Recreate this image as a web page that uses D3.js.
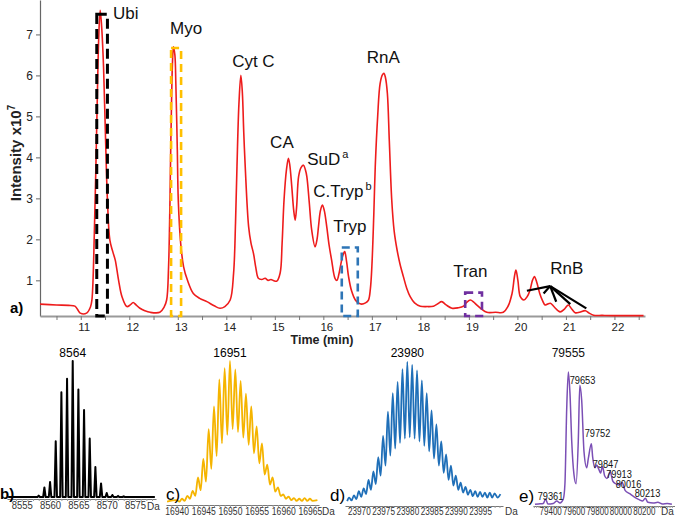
<!DOCTYPE html>
<html><head><meta charset="utf-8">
<script src="https://cdn.jsdelivr.net/npm/d3@7"></script>
<style>
body{margin:0;background:#fff;}
text{font-family:"Liberation Sans",Arial,sans-serif;}
</style></head>
<body><svg id="c" width="675" height="518"></svg>
<script>
// ---------- data: chromatogram (a) ----------
const chromTime = [10.16,10.5,10.75,10.88,10.95,10.99,11.12,11.2,11.23,11.28,11.33,11.37,11.4,11.43,11.47,11.51,11.55,11.6,11.66,11.71,11.78,11.85,11.95,12.02,12.08,12.14,12.22,12.32,12.43,12.63,12.72,12.77,12.81,12.86,12.89,12.91,12.94,12.96,12.99,13.01,13.06,13.12,13.2,13.32,13.45,13.6,13.75,13.87,13.97,14.08,14.15,14.19,14.22,14.26,14.3,14.33,14.36,14.39,14.46,14.51,14.56,14.61,14.66,14.73,14.8,14.86,14.92,14.98,15.04,15.11,15.15,15.19,15.24,15.28,15.31,15.35,15.39,15.42,15.45,15.49,15.54,15.59,15.63,15.66,15.71,15.76,15.83,15.87,15.9,15.94,15.98,16.02,16.07,16.12,16.17,16.24,16.28,16.32,16.35,16.4,16.44,16.48,16.52,16.58,16.66,16.72,16.79,16.87,16.93,16.97,17.0,17.04,17.07,17.12,17.17,17.22,17.25,17.28,17.32,17.36,17.41,17.46,17.52,17.58,17.65,17.72,17.79,17.88,18.0,18.14,18.27,18.36,18.44,18.53,18.65,18.78,18.89,18.96,19.03,19.1,19.16,19.26,19.37,19.55,19.71,19.8,19.89,19.94,19.97,20.01,20.06,20.13,20.2,20.26,20.31,20.35,20.4,20.46,20.52,20.57,20.62,20.68,20.76,20.88,20.97,21.05,21.12,21.19,21.28,21.4,21.48,21.57,21.75,21.98,22.3,22.6];
const chromInt = [0.42,0.4,0.39,0.37,0.26,0.2,0.2,0.35,0.52,2.15,4.8,6.9,7.59,7.2,6.2,4.5,2.96,1.98,1.7,1.5,1.0,0.6,0.36,0.4,0.46,0.4,0.32,0.26,0.22,0.22,0.35,0.52,1.33,4.58,6.3,6.7,6.5,5.8,4.2,2.96,1.9,1.33,1.0,0.68,0.56,0.48,0.38,0.32,0.36,0.52,1.17,2.4,3.77,5.3,6.0,5.6,4.6,3.77,2.31,1.9,1.66,1.3,1.05,1.02,1.05,1.0,1.02,0.99,0.98,1.18,1.9,2.96,3.7,3.98,3.8,3.28,2.7,2.47,2.8,3.53,3.75,3.81,3.7,3.53,2.9,2.23,1.82,2.0,2.31,2.7,2.84,2.7,2.31,1.85,1.5,1.05,1.0,1.15,1.33,1.6,1.7,1.45,1.09,0.75,0.52,0.45,0.42,0.45,0.52,0.8,1.33,2.6,3.77,5.0,5.8,6.02,6.05,5.95,5.56,4.4,2.96,2.2,1.74,1.4,1.09,0.8,0.6,0.45,0.37,0.36,0.37,0.43,0.48,0.4,0.32,0.33,0.37,0.47,0.52,0.47,0.4,0.3,0.22,0.22,0.22,0.35,0.68,1.1,1.25,1.0,0.6,0.52,0.6,0.76,1.0,1.09,0.95,0.68,0.5,0.4,0.42,0.44,0.35,0.23,0.3,0.4,0.3,0.21,0.22,0.26,0.2,0.15,0.145,0.14,0.14,0.14];
const yTickValues = [1,2,3,4,5,6,7];
const xTickLabels = [11,12,13,14,15,16,17,18,19,20,21,22];
const xMinorTicks = [10.5,11,11.5,12,12.5,13,13.5,14,14.5,15,15.5,16,16.5,17,17.5,18,18.5,19,19.5,20,20.5,21,21.5,22,22.5];

// peak names and annotation anchors (time, intensity)
const peakNames = ["Ubi","Myo","Cyt C","CA","SuD","C.Tryp","Tryp","RnA","Tran","RnB"];
const peakSup   = ["","","","","a","b","","","",""];
const peakLabT  = [11.666,12.841,14.12,14.903,15.666,15.79,16.202,16.897,18.676,20.676];
const peakLabV  = [7.37,7.007,6.21,4.227,3.812,3.039,2.185,6.307,1.088,1.154];

// dashed selection boxes [t0,t1,top]
const boxT0 = [11.33,12.862,16.38,18.924];
const boxT1 = [11.55,13.068,16.71,19.27];
const boxTop = [7.49,6.67,1.80,0.70];
const boxColors = ["#000000","#FFC000","#2E75B6","#7030A0"];

// RnB pointer lines
const rnbApex = [20.676,0.86];
const rnbEndT = [20.196,20.54,20.80,21.09,21.42];
const rnbEndV = [0.746,0.68,0.478,0.42,0.317];

// ---------- data: spectra ----------
const ubiMass = [8558,8559,8560,8561,8562,8563,8564,8565,8566,8567,8568,8569,8570,8571,8572,8573];
const ubiInt  = [0.01,0.07,0.11,0.41,0.77,0.87,1.0,0.79,0.64,0.43,0.22,0.10,0.03,0.015,0.008,0.005];
const ubiTicks = [8555,8560,8565,8570,8575];

const myoMass = [16940,16941,16942,16943,16944,16945,16946,16947,16948,16949,16950,16951,16952,16953,16954,16955,16956,16957,16958,16959,16960,16961,16962,16963,16964,16965];
const myoPeak = [0.02,0.03,0.05,0.085,0.18,0.31,0.52,0.68,0.87,0.95,1.0,0.94,0.86,0.77,0.68,0.54,0.42,0.27,0.18,0.11,0.06,0.045,0.035,0.03,0.035,0.03];
const myoValley = [0.01,0.015,0.03,0.05,0.09,0.15,0.24,0.33,0.42,0.48,0.52,0.5,0.46,0.41,0.35,0.28,0.2,0.13,0.08,0.05,0.03,0.02,0.015,0.015,0.015];
const myoTicks = [16940,16945,16950,16955,16960,16965];

const trypMass = [23968,23969,23970,23971,23972,23973,23974,23975,23976,23977,23978,23979,23980,23981,23982,23983,23984,23985,23986,23987,23988,23989,23990,23991,23992,23993,23994,23995,23996,23997,23998];
const trypPeak = [0.045,0.06,0.09,0.11,0.17,0.23,0.33,0.48,0.65,0.78,0.86,0.95,1.0,0.98,0.94,0.87,0.78,0.66,0.56,0.44,0.35,0.27,0.2,0.15,0.12,0.1,0.09,0.085,0.08,0.08,0.075];
const trypValley = [0.025,0.035,0.05,0.07,0.1,0.14,0.2,0.27,0.34,0.39,0.43,0.46,0.47,0.46,0.44,0.41,0.37,0.32,0.27,0.22,0.17,0.13,0.1,0.08,0.065,0.055,0.05,0.05,0.045,0.045];
const trypTicks = [23970,23975,23980,23985,23990,23995];

const tranMass = [79270,79300,79341,79361,79380,79426,79456,79484,79512,79526,79541,79555,79569,79584,79603,79621,79640,79653,79669,79689,79712,79726,79752,79763,79783,79797,79815,79830,79847,79865,79885,79913,79935,79960,79985,80016,80040,80080,80120,80160,80190,80213,80235,80280,80320,80360,80400,80440];
const tranInt  = [0.005,0.008,0.012,0.045,0.008,0.012,0.03,0.015,0.045,0.16,0.72,1.0,0.84,0.48,0.23,0.16,0.48,0.9,0.79,0.4,0.28,0.35,0.46,0.36,0.28,0.3,0.27,0.24,0.29,0.22,0.2,0.25,0.18,0.16,0.15,0.17,0.11,0.085,0.06,0.04,0.03,0.05,0.02,0.015,0.02,0.008,0.012,0.005];
const tranTicks = [79400,79600,79800,80000,80200];
const tranLabels = ["79555","79653","79752","79847","79913","80016","80213","79361"];
const tranLabMass = [79555,79676,79804,79873,79988,80069,80232,79403];
const tranLabLevel = [1.11,0.91,0.515,0.28,0.2,0.125,0.06,0.037];

// ---------- drawing ----------
const svg = d3.select("#c");
const FONT = '"Liberation Sans",Arial,sans-serif';

// ===== panel a =====
const x = d3.scaleLinear().domain([10.16,22.63]).range([40,645]);
const y = d3.scaleLinear().domain([0.13,7.84]).range([316,0]);

const gy = svg.append("g").attr("transform","translate(40,0)")
  .call(d3.axisLeft(y).tickValues(yTickValues).tickSize(4).tickSizeOuter(0).tickPadding(3));
gy.select(".domain").attr("stroke","#666").attr("stroke-width",1.2);
gy.selectAll(".tick line").attr("stroke","#666");
gy.selectAll(".tick text").attr("font-size",12).attr("fill","#222").attr("font-family",FONT);

const gx = svg.append("g").attr("transform","translate(0,316)")
  .call(d3.axisBottom(x).tickValues(xMinorTicks).tickSize(4).tickSizeOuter(0).tickPadding(3)
    .tickFormat(d => xTickLabels.includes(d) ? d : ""));
gx.select(".domain").attr("stroke","#9a9a9a").attr("stroke-width",2);
gx.selectAll(".tick line").attr("stroke","#777");
gx.selectAll(".tick text").attr("font-size",11.5).attr("fill","#222").attr("dx",3).attr("font-family",FONT);

svg.append("text").attr("x",322).attr("y",344).attr("text-anchor","middle")
  .attr("font-size",12.5).attr("font-weight","bold").attr("fill","#222").text("Time (min)");

const yl = svg.append("text").attr("transform","translate(21,153) rotate(-90)")
  .attr("text-anchor","middle").attr("font-size",15).attr("font-weight","bold").attr("fill","#222");
yl.append("tspan").text("Intensity x10");
yl.append("tspan").attr("dy",-6).attr("font-size",10).text("7");

svg.append("text").attr("x",10).attr("y",313).attr("font-size",15).attr("font-weight","bold").text("a)");

// chromatogram
const chrom = chromTime.map((t,i)=>[t,chromInt[i]]);
svg.append("path").datum(chrom)
  .attr("d", d3.line().x(d=>x(d[0])).y(d=>y(d[1])).curve(d3.curveCatmullRom))
  .attr("fill","none").attr("stroke","#ee1c1c").attr("stroke-width",1.6);

// dashed boxes
boxT0.forEach((t0,i)=>{
  svg.append("rect").attr("x",x(t0)).attr("y",y(boxTop[i]))
    .attr("width",x(boxT1[i])-x(t0)).attr("height",y(0.13)-y(boxTop[i]))
    .attr("fill","none").attr("stroke",boxColors[i]).attr("stroke-width",i===0?3:2.6)
    .attr("stroke-dasharray", i===0 ? "10,5" : "8,5");
});

// RnB pointer lines
rnbEndT.forEach((t,i)=>{
  svg.append("line").attr("x1",x(rnbApex[0])).attr("y1",y(rnbApex[1]))
    .attr("x2",x(t)).attr("y2",y(rnbEndV[i])).attr("stroke","#000").attr("stroke-width",2.2);
});

// peak names
peakNames.forEach((n,i)=>{
  const t = svg.append("text").attr("x",x(peakLabT[i])).attr("y",y(peakLabV[i]))
    .attr("font-size",17).attr("fill","#111").text(n);
  if(peakSup[i]) t.append("tspan").attr("dy",-7).attr("dx",2).attr("font-size",11).text(peakSup[i]);
});

// ===== spectra panels =====
function bottomAxis(xs, axisY, ticks, minor, fs, pad, sx){
  const g = svg.append("g").attr("transform",`translate(0,${axisY})`);
  g.call(d3.axisBottom(xs).tickValues(minor).tickSize(2).tickSizeOuter(0).tickFormat(""));
  g.select(".domain").attr("stroke","#777").attr("stroke-width",1.2);
  g.selectAll(".tick line").attr("stroke","#999");
  const g2 = svg.append("g").attr("transform",`translate(0,${axisY})`);
  g2.call(d3.axisBottom(xs).tickValues(ticks).tickSize(0).tickPadding(pad).tickFormat(d3.format("d")));
  g2.select(".domain").remove();
  g2.selectAll(".tick text").attr("font-size",fs).attr("fill","#333").attr("font-family",FONT)
    .attr("transform",`scale(${sx},1)`);
}
function daLabel(xp, yp, fs){
  svg.append("text").attr("x",xp).attr("y",yp).attr("font-size",fs).attr("fill","#333").text("Da");
}

// b) ubiquitin
const xb = d3.scaleLinear().domain([8552.4,8578.7]).range([7,156]);
const yb = d3.scaleLinear().domain([0,1]).range([497,361]);
bottomAxis(xb, 499, ubiTicks, d3.range(8553,8579), 10, 3, 0.95);
const ubiPts = [[8552.6,0]];
ubiMass.forEach((m,i)=>{ ubiPts.push([m-0.22,0],[m,ubiInt[i]],[m+0.22,0]); });
ubiPts.push([8578.5,0]);
svg.append("path").datum(ubiPts).attr("d",d3.line().x(d=>xb(d[0])).y(d=>yb(d[1])))
  .attr("fill","none").attr("stroke","#000").attr("stroke-width",2).attr("stroke-linejoin","round");
daLabel(147, 510, 10);
svg.append("text").attr("x",xb(8564)).attr("y",357).attr("text-anchor","middle").attr("font-size",12).text("8564");
svg.append("text").attr("x",0).attr("y",499).attr("font-size",15).attr("font-weight","bold").text("b)");

// c) myoglobin
const xc = d3.scaleLinear().domain([16938,16966.7]).range([166,319]);
const yc = d3.scaleLinear().domain([0,1]).range([503,361]);
bottomAxis(xc, 505, myoTicks, d3.range(16939,16967), 10, 2.5, 0.86);
const myoPts = [[16938.2,0.01]];
myoMass.forEach((m,i)=>{ myoPts.push([m,myoPeak[i]]); if(i<myoValley.length) myoPts.push([m+0.5,myoValley[i]]); });
myoPts.push([16965.5,0.015],[16966.4,0.02]);
svg.append("path").datum(myoPts).attr("d",d3.line().x(d=>xc(d[0])).y(d=>yc(d[1])).curve(d3.curveMonotoneX))
  .attr("fill","none").attr("stroke","#F5B400").attr("stroke-width",1.8);
daLabel(322, 515, 10);
svg.append("text").attr("x",xc(16950)).attr("y",357).attr("text-anchor","middle").attr("font-size",12).text("16951");
svg.append("text").attr("x",166).attr("y",500).attr("font-size",17).text("c)");

// d) trypsinogen
const xd = d3.scaleLinear().domain([23967.15,23999.73]).range([345,503]);
const yd = d3.scaleLinear().domain([0,1]).range([504,362]);
bottomAxis(xd, 506, trypTicks, d3.range(23968,24000), 10, 2, 0.82);
const trypPts = [[23967.6,0.02]];
trypMass.forEach((m,i)=>{ trypPts.push([m,trypPeak[i]]); if(i<trypValley.length) trypPts.push([m+0.5,trypValley[i]]); });
trypPts.push([23998.6,0.045],[23999.2,0.07]);
svg.append("path").datum(trypPts).attr("d",d3.line().x(d=>xd(d[0])).y(d=>yd(d[1])).curve(d3.curveMonotoneX))
  .attr("fill","none").attr("stroke","#1F6FB8").attr("stroke-width",1.8);
daLabel(505, 515, 10);
svg.append("text").attr("x",xd(23980)).attr("y",357).attr("text-anchor","middle").attr("font-size",12).text("23980");
svg.append("text").attr("x",330).attr("y",501).attr("font-size",17).text("d)");

// e) transferrin
const xe = d3.scaleLinear().domain([79253,80466.7]).range([533,675]);
const ye = d3.scaleLinear().domain([0,1]).range([505,372]);
bottomAxis(xe, 506, tranTicks, d3.range(79260,80460,20), 10, 2, 0.8);
svg.append("path").datum(tranMass.map((m,i)=>[m,tranInt[i]]))
  .attr("d",d3.line().x(d=>xe(d[0])).y(d=>ye(d[1])).curve(d3.curveMonotoneX))
  .attr("fill","none").attr("stroke","#7B4FB5").attr("stroke-width",1.5);
daLabel(661, 515, 10);
tranLabels.forEach((l,i)=>{
  svg.append("text")
    .attr("transform",`translate(${xe(tranLabMass[i])},${ye(tranLabLevel[i])}) scale(${i===0?1:0.88},1)`)
    .attr("text-anchor","middle").attr("font-size",i===0?12:10.5).attr("fill","#111").text(l);
});
svg.append("text").attr("x",519).attr("y",502).attr("font-size",17).text("e)");
</script></body></html>
